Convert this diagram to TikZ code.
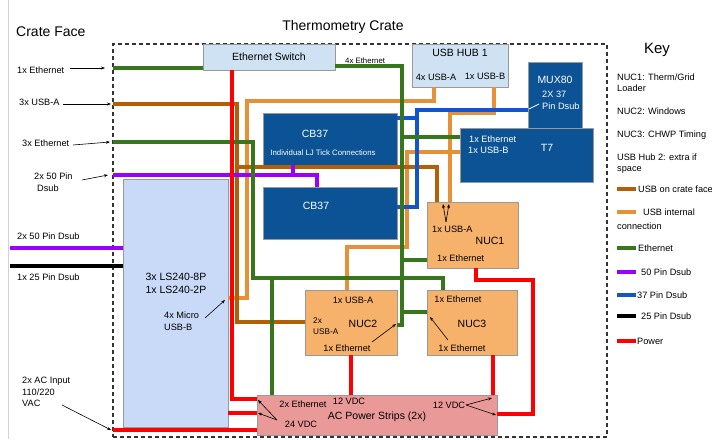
\documentclass[tikz,border=0pt]{standalone}
\usepackage{fontspec}
\setmainfont{Liberation Sans}
\usetikzlibrary{arrows.meta}
\definecolor{cgreen}{HTML}{38761D}
\definecolor{cbrown}{HTML}{B45F06}
\definecolor{corange}{HTML}{E69138}
\definecolor{cpurple}{HTML}{9900FF}
\definecolor{cblue}{HTML}{1155CC}
\definecolor{cred}{HTML}{FF0000}
\definecolor{dkblue}{HTML}{0B5394}
\definecolor{ltblue}{HTML}{CFE2F3}
\definecolor{lsblue}{HTML}{C9DAF8}
\definecolor{nucor}{HTML}{F6B26B}
\definecolor{pspink}{HTML}{EA9999}
\definecolor{bordergray}{HTML}{999999}
\begin{document}
\begin{tikzpicture}[x=1pt,y=-1pt,
  box/.style={draw=bordergray,line width=0.7pt,anchor=north west,inner sep=0,outer sep=0},
  ts/.style={inner sep=0,font=\fontsize{9.2}{11}\selectfont,text height=6.6pt,text depth=0pt},
  tsm/.style={inner sep=0,font=\fontsize{8.2}{10}\selectfont,text height=5.9pt,text depth=0pt},
  tm/.style={inner sep=0,font=\fontsize{10.5}{12}\selectfont,text height=7.5pt,text depth=0pt},
  tl/.style={inner sep=0,font=\fontsize{14}{16}\selectfont,text height=10pt,text depth=0pt},
  tx/.style={inner sep=0,font=\fontsize{7.8}{10}\selectfont,text height=5.6pt,text depth=0pt},
  wire/.style={line width=3.1pt},
  keyline/.style={line width=3.2pt},
  ptr/.style={draw=black,line width=0.6pt,-{Stealth[length=4pt,width=3pt]}},
]
\useasboundingbox (0,0) rectangle (712,439);
\fill[white] (0,0) rectangle (712,439);
\draw[gray!35,line width=0.8pt] (8.5,0) -- (8.5,439);

% crate outline
\node[draw=black!80,dash pattern=on 4pt off 3pt,line width=1.2pt,anchor=north west,
      minimum width=494pt,minimum height=393pt,inner sep=0,outer sep=0] (crate) at (113,44) {};

% boxes
\node[box,fill=ltblue,minimum width=132pt,minimum height=26pt] (sw) at (203,44) {};
\node[box,fill=ltblue,minimum width=96pt,minimum height=43pt] (hub) at (412,44) {};
\node[box,fill=dkblue,minimum width=133pt,minimum height=54pt] (t7) at (460,128) {};
\node[box,fill=dkblue,minimum width=54pt,minimum height=66pt] (mux) at (528,62) {};
\node[box,fill=dkblue,minimum width=134pt,minimum height=52pt] (cbA) at (263,113) {};
\node[box,fill=dkblue,minimum width=134pt,minimum height=52pt] (cbB) at (263,187) {};
\node[box,fill=lsblue,minimum width=105pt,minimum height=248pt] (ls) at (123,179) {};
\node[box,fill=nucor,minimum width=91pt,minimum height=66pt] (nuc1) at (427,202) {};
\node[box,fill=nucor,minimum width=92pt,minimum height=65pt] (nuc2) at (305,290) {};
\node[box,fill=nucor,minimum width=90pt,minimum height=65pt] (nuc3) at (427,290) {};
\node[box,fill=pspink,minimum width=240pt,minimum height=40pt] (ps) at (257,395) {};

% orange (USB internal)
\draw[wire,corange] ([xshift=22pt]hub.south west) -- (434,101) -- (247,101) -- (247,298) -- ([yshift=-119pt]ls.north east);
\draw[wire,corange] ([xshift=82pt]hub.south west) -- (494,113) -- (450,113) -- ([xshift=23pt]nuc1.north west);
\draw[wire,corange] ([yshift=-24pt]t7.north west) -- (407,152) -- (407,247) -- (347,247) -- ([xshift=42pt]nuc2.north west);

% brown (USB on crate face)
\coordinate (fUsb) at (113,104);
\draw[wire,cbrown] (fUsb) -- (237,104) -- (237,322) -- ([yshift=-32pt]nuc2.north west);
\draw[wire,cbrown] (237,167) -- (437,167) -- ([xshift=10pt]nuc1.north west);

% purple (50 pin)
\coordinate (fDsub) at (113,175);
\coordinate (fP50) at (10,248);
\draw[wire,cpurple] (fDsub) -- (317,175) -- ([xshift=54pt]cbB.north west);
\draw[wire,cpurple] (293,175) -- ([xshift=30pt]cbA.south west);
\draw[wire,cpurple] (fP50) -- ([yshift=-69pt]ls.north west);

% black (25 pin)
\coordinate (fP25) at (10,266);
\draw[wire,black] (fP25) -- ([yshift=-87pt]ls.north west);

% blue (37 pin)
\draw[wire,cblue] ([yshift=18pt]mux.south west) -- (417,110) -- (417,207) -- ([yshift=-20pt]cbB.north east);
\draw[wire,cblue] (417,118) -- ([yshift=-5pt]cbA.north east);
\draw[white,line width=0.7pt] (539,104) -- (529,109);

% green (Ethernet)
\coordinate (fEth1) at (113,68);
\coordinate (fEth3) at (113,142);
\draw[wire,cgreen] (fEth1) -- ([yshift=2pt]sw.south west);
\draw[wire,cgreen] ([yshift=4pt]sw.south east) -- (402,66) -- (402,325) -- ([yshift=-35pt]nuc2.north east);
\draw[wire,cgreen] (402,137) -- ([yshift=-9pt]t7.north west);
\draw[wire,cgreen] (402,260) -- ([yshift=8pt]nuc1.south west);
\draw[wire,cgreen] (402,312) -- ([yshift=-22pt]nuc3.north west);
\draw[wire,cgreen] (fEth3) -- (253,142) -- (253,278) -- (443,278) -- ([xshift=16pt]nuc3.north west);
\draw[wire,cgreen] (272,278) -- ([xshift=15pt]ps.north west);

% red (power)
\coordinate (fAC) at (113,430);
\draw[wire,cred] ([xshift=29pt]sw.south west) -- (232,399) -- ([yshift=-4pt]ps.north west);
\draw[wire,cred] ([yshift=14pt]ls.south east) -- ([yshift=-18pt]ps.north west);
\draw[wire,cred] (fAC) -- ([yshift=5pt]ps.south west);
\draw[wire,cred] ([xshift=46pt]nuc2.south west) -- ([xshift=94pt]ps.north west);
\draw[wire,cred] ([xshift=66pt]nuc3.south west) -- ([xshift=236pt]ps.north west);
\draw[wire,cred] ([xshift=49pt]nuc1.south west) -- (476,280) -- (533,280) -- (533,414) -- ([yshift=-19pt]ps.north east);

% titles
\node[tl,anchor=west] (tFace) at (16,31) {Crate Face};
\node[tl] (tCrate) at (343,25) {Thermometry Crate};
\node[inner sep=0,font=\fontsize{15}{17}\selectfont,text height=10.7pt,text depth=0pt] (tKey) at (657,48) {Key};

% crate face labels
\node[ts,anchor=west] (l1) at (17,70) {1x Ethernet};
\node[ts,anchor=west] (l2) at (19,102) {3x USB-A};
\node[ts,anchor=west] (l3) at (22,143) {3x Ethernet};
\node[ts,anchor=west] (l4a) at (34,176) {2x 50 Pin};
\node[ts,anchor=west] (l4b) at (37,188) {Dsub};
\node[ts,anchor=west] (l5) at (17,236) {2x 50 Pin Dsub};
\node[ts,anchor=west] (l6) at (17,277) {1x 25 Pin Dsub};
\node[ts,anchor=west] (l7a) at (22,380) {2x AC Input};
\node[ts,anchor=west] (l7b) at (22,392) {110/220};
\node[ts,anchor=west] (l7c) at (22,403) {VAC};
\draw[ptr] (70,68) -- (105,68);
\draw[ptr] (63,104) -- (111,104);
\draw[ptr] (73,145) -- (110,142);
\draw[ptr] (82,180) -- (108,175);
\draw[ptr] (62,405) -- (111,430);

% box texts
\node[tm] (swT) at (269,57) {Ethernet Switch};
\node[tx,anchor=west] (e4) at (345,61) {4x Ethernet};
\node[tm] (hubT) at (460,53) {USB HUB 1};
\node[ts] (hubA) at (436,77) {4x USB-A};
\node[ts] (hubB) at (485,76) {1x USB-B};
\node[tm,text=white] (muxT) at (555,80) {MUX80};
\node[ts,text=white,anchor=west] (muxA) at (542,94) {2X 37};
\node[ts,text=white,anchor=west] (muxB) at (542,106) {Pin Dsub};
\node[ts,text=white,anchor=west] (t7a) at (469,139) {1x Ethernet};
\node[ts,text=white,anchor=west] (t7b) at (468,150) {1x USB-B};
\node[tm,text=white] (t7T) at (547,148) {T7};
\node[tm,text=white] (cbAT) at (315,134) {CB37};
\node[tx,text=white] (cbAs) at (323,153) {Individual LJ Tick Connections};
\node[tm,text=white] (cbBT) at (316,206) {CB37};
\node[tm] (lsA) at (176,277) {3x LS240-8P};
\node[tm] (lsB) at (176,290) {1x LS240-2P};
\node[ts,anchor=west] (lsC) at (164,315) {4x Micro};
\node[ts,anchor=west] (lsD) at (164,327) {USB-B};
\draw[ptr] (205,318) -- (225,300);

\node[ts,anchor=west] (n1a) at (432,229) {1x USB-A};
\node[tm] (n1T) at (490,241) {NUC1};
\node[ts,anchor=west] (n1b) at (437,258) {1x Ethernet};
\draw[ptr] (446,222) -- (443,204);
\draw[ptr] (446,222) -- (449,204);

\node[ts] (n2a) at (353,300) {1x USB-A};
\node[tsm,anchor=west] (n2b) at (313,321) {2x};
\node[tsm,anchor=west] (n2c) at (313,332) {USB-A};
\node[tm] (n2T) at (363,324) {NUC2};
\node[ts] (n2d) at (347,348) {1x Ethernet};
\draw[ptr] (372,342) -- (396,324);

\node[ts] (n3a) at (458,299) {1x Ethernet};
\node[tm] (n3T) at (472,324) {NUC3};
\node[ts] (n3b) at (462,348) {1x Ethernet};
\draw[ptr] (448,340) -- (430,317);

\node[ts] (psE) at (303,404) {2x Ethernet};
\node[ts] (ps12a) at (349,401) {12 VDC};
\node[ts] (ps24) at (301,424) {24 VDC};
\node[tm] (psT) at (377,416) {AC Power Strips (2x)};
\node[ts] (ps12b) at (449,405) {12 VDC};
\draw[ptr] (277,420) -- (258,400);
\draw[ptr] (277,420) -- (258,413);
\draw[ptr] (466,405) -- (492,398);
\draw[ptr] (466,405) -- (496,415);

% key
\node[ts,anchor=west] (k1a) at (617,77) {NUC1: Therm/Grid};
\node[ts,anchor=west] (k1b) at (617,88) {Loader};
\node[ts,anchor=west] (k2) at (617,111) {NUC2: Windows};
\node[ts,anchor=west] (k3) at (617,134) {NUC3: CHWP Timing};
\node[ts,anchor=west] (k4a) at (617,157) {USB Hub 2: extra if};
\node[ts,anchor=west] (k4b) at (617,168) {space};
\draw[keyline,cbrown] (617,189) -- (636,189);
\node[ts,anchor=west] (k5) at (638,189) {USB on crate face};
\draw[keyline,corange] (617,212) -- (636,212);
\node[ts,anchor=west] (k6a) at (643,212) {USB internal};
\node[ts,anchor=west] (k6b) at (617,226) {connection};
\draw[keyline,cgreen] (617,248) -- (636,248);
\node[ts,anchor=west] (k7) at (638,248) {Ethernet};
\draw[keyline,cpurple] (617,272) -- (636,272);
\node[ts,anchor=west] (k8) at (641,272) {50 Pin Dsub};
\draw[keyline,cblue] (617,295) -- (636,295);
\node[ts,anchor=west] (k9) at (637,295) {37 Pin Dsub};
\draw[keyline,black] (617,316) -- (636,316);
\node[ts,anchor=west] (k10) at (641,316) {25 Pin Dsub};
\draw[keyline,cred] (617,341) -- (636,341);
\node[ts,anchor=west] (k11) at (637,341) {Power};
\end{tikzpicture}
\end{document}
